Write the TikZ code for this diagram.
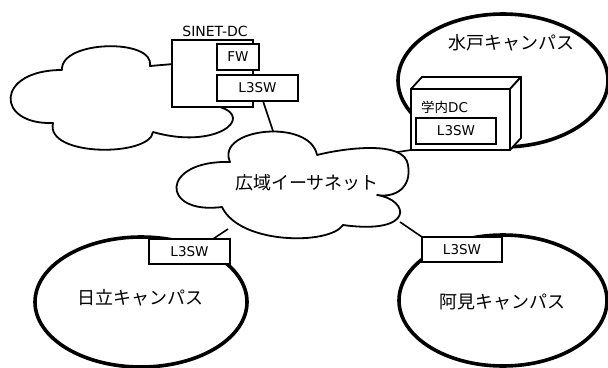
\documentclass[tikz,border=0pt]{standalone}
\usepackage{fontspec}
\setmainfont{DejaVu Sans}
\newfontfamily\cjk{Noto Sans CJK JP}
\usetikzlibrary{shapes.geometric}
\begin{document}
\begin{tikzpicture}[x=1pt,y=-1pt,
  box/.style={draw, line width=1.8pt, fill=white, inner sep=0pt, outer sep=0pt,
    font=\fontsize{13.5}{16}\selectfont},
  campus/.style={draw, ellipse, line width=3.6pt, inner sep=0pt, outer sep=0pt},
  cloudline/.style={draw, fill=white, line width=1.8pt, line join=round},
  link/.style={draw, line width=1.6pt},
  jlabel/.style={font=\cjk\fontsize{18}{20}\selectfont, inner sep=0pt},
  slabel/.style={font=\fontsize{13.5}{16}\selectfont, inner sep=0pt}]
\useasboundingbox (0,0) rectangle (608,367);

% campuses
\node[campus, minimum width=210pt, minimum height=133pt] (mito) at (503,80.5) {};
\node[campus, minimum width=212pt, minimum height=130pt] (hitachi) at (141,302) {};
\node[campus, minimum width=208pt, minimum height=131pt] (ami) at (503,300.5) {};
\node[jlabel] (mitotxt) at (511,43) {水戸キャンパス};
\node[jlabel] (hitachitxt) at (140,298) {日立キャンパス};
\node[jlabel] (amitxt) at (502,302) {阿見キャンパス};

% connector end points on the wide-area cloud
\coordinate (ctop) at (274,134);
\coordinate (cright) at (391,153);
\coordinate (cbl) at (228,229);
\coordinate (cbr) at (400,222);

% left cloud (SINET)
\path[cloudline] (185,63) -- (150,66)
  .. controls (155,38) and (60,40) .. (62,70)
  .. controls (-5,70) and (-5,125) .. (53,123)
  .. controls (45,157) and (150,157) .. (153,132)
  .. controls (215,150) and (255,118) .. (220,107)
  -- (200,90) -- cycle;

% SINET-DC
\node[box, minimum width=81pt, minimum height=67pt] (sdc) at (212.5,73.5) {};
\node[slabel, font=\fontsize{14}{16}\selectfont] (sdctxt) at (215,31) {SINET-DC};
\node[box, minimum width=42pt, minimum height=26pt] (fw) at (238,57) {FW};
\node[box, minimum width=81pt, minimum height=26pt] (sl3) at (257.5,88) {L3SW};

% campus switches
\node[box, minimum width=81pt, minimum height=25pt] (hl3) at (189.5,251.5) {L3SW};
\node[box, minimum width=80pt, minimum height=25pt] (al3) at (462,249.5) {L3SW};

% university DC (3D box)
\node[box, minimum width=99pt, minimum height=61pt] (dc) at (460.5,119.5) {};
\path[draw, fill=white, line width=1.8pt, line join=round]
  (dc.north west) -- ++(11,-12) -- ++(99,0) -- (dc.north east) -- cycle;
\path[draw, fill=white, line width=1.8pt, line join=round]
  (dc.north east) -- ++(11,-12) -- ++(0,61) -- (dc.south east) -- cycle;
\node[slabel, anchor=west] (dctxt) at (421,107) {{\cjk 学内}DC};
\node[box, minimum width=80pt, minimum height=26pt] (dl3) at (456,131) {L3SW};

% links
\draw[link] ([xshift=5.5pt]sl3.south) -- (ctop);
\draw[link] (dc.south west) -- (cright);
\draw[link] ([xshift=23.5pt]hl3.north) -- (cbl);
\draw[link] (al3.north west) -- (cbr);

% wide-area ethernet cloud
\path[cloudline] (230,162)
  .. controls (215,128) and (310,118) .. (317,155)
  .. controls (345,148) and (405,140) .. (408,165)
  .. controls (412,188) and (395,198) .. (377,195)
  .. controls (410,200) and (415,235) .. (343,225)
  .. controls (330,245) and (240,245) .. (222,207)
  .. controls (160,215) and (160,160) .. (230,162) -- cycle;
\node[jlabel] (wan) at (307,183) {広域イーサネット};
\end{tikzpicture}
\end{document}
